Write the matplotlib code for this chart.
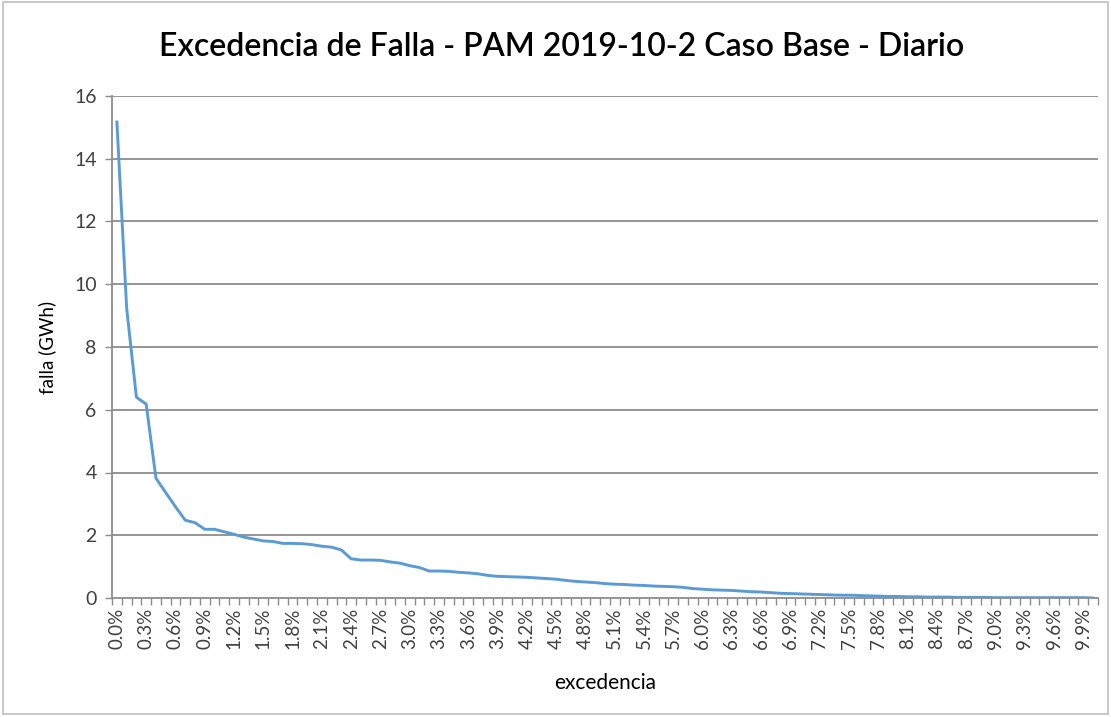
import matplotlib
matplotlib.use("Agg")
import matplotlib.pyplot as plt
from matplotlib.patches import Rectangle

categories = [
    "0.0%", "0.1%", "0.2%", "0.3%", "0.4%", "0.5%", "0.6%", "0.7%", "0.8%", "0.9%",
    "1.0%", "1.1%", "1.2%", "1.3%", "1.4%", "1.5%", "1.6%", "1.7%", "1.8%", "1.9%",
    "2.0%", "2.1%", "2.2%", "2.3%", "2.4%", "2.5%", "2.6%", "2.7%", "2.8%", "2.9%",
    "3.0%", "3.1%", "3.2%", "3.3%", "3.4%", "3.5%", "3.6%", "3.7%", "3.8%", "3.9%",
    "4.0%", "4.1%", "4.2%", "4.3%", "4.4%", "4.5%", "4.6%", "4.7%", "4.8%", "4.9%",
    "5.0%", "5.1%", "5.2%", "5.3%", "5.4%", "5.5%", "5.6%", "5.7%", "5.8%", "5.9%",
    "6.0%", "6.1%", "6.2%", "6.3%", "6.4%", "6.5%", "6.6%", "6.7%", "6.8%", "6.9%",
    "7.0%", "7.1%", "7.2%", "7.3%", "7.4%", "7.5%", "7.6%", "7.7%", "7.8%", "7.9%",
    "8.0%", "8.1%", "8.2%", "8.3%", "8.4%", "8.5%", "8.6%", "8.7%", "8.8%", "8.9%",
    "9.0%", "9.1%", "9.2%", "9.3%", "9.4%", "9.5%", "9.6%", "9.7%", "9.8%", "9.9%",
    "10.0%",
]

falla = [
    15.17, 9.24, 6.40, 6.18, 3.82, 3.36, 2.91, 2.48, 2.40, 2.19,
    2.19, 2.11, 2.03, 1.94, 1.88, 1.82, 1.80, 1.74, 1.74, 1.73,
    1.70, 1.65, 1.62, 1.53, 1.25, 1.21, 1.21, 1.20, 1.15, 1.11,
    1.03, 0.97, 0.86, 0.86, 0.85, 0.82, 0.80, 0.77, 0.72, 0.69,
    0.68, 0.67, 0.66, 0.64, 0.62, 0.60, 0.56, 0.53, 0.51, 0.49,
    0.46, 0.44, 0.43, 0.41, 0.40, 0.38, 0.37, 0.36, 0.34, 0.30,
    0.28, 0.26, 0.25, 0.24, 0.22, 0.20, 0.19, 0.17, 0.15, 0.14,
    0.13, 0.12, 0.11, 0.10, 0.09, 0.09, 0.08, 0.07, 0.06, 0.05,
    0.05, 0.04, 0.04, 0.03, 0.03, 0.03, 0.02, 0.02, 0.02, 0.02,
    0.01, 0.01, 0.01, 0.01, 0.01, 0.01, 0.01, 0.01, 0.01, 0.01,
    0.00,
]

y_ticks = [0, 2, 4, 6, 8, 10, 12, 14, 16]
label_step = 3

title = "Excedencia de Falla - PAM 2019-10-2 Caso Base - Diario"
xlabel = "excedencia"
ylabel = "falla (GWh)"

plt.rcParams["font.family"] = ["Lato", "DejaVu Sans"]

W, H = 1111, 717
fig = plt.figure(figsize=(W / 100, H / 100), dpi=100)
ax = fig.add_axes([112 / W, 1 - 598 / H, (1098 - 112) / W, (598 - 96) / H])

x = list(range(len(categories)))
ax.plot(x, falla, color="#5B9BD5", lw=2.1, solid_joinstyle="round", zorder=3)

ax.set_xlim(-0.5, len(categories) - 0.5)
ax.set_ylim(0, 16)

grid_col = "#8C8C8C"
ax.set_yticks(y_ticks)
ax.set_yticklabels([str(v) for v in y_ticks])
for v in y_ticks[1:]:
    ax.axhline(v, color=grid_col, lw=1.3, zorder=1)

major = x[::label_step]
ax.set_xticks(major)
ax.set_xticklabels([categories[i] for i in major], rotation=90)
ax.set_xticks([i - 0.5 for i in range(len(categories) + 1)], minor=True)
ax.tick_params(axis="x", which="major", length=0, pad=7, labelsize=13.5, labelcolor="#404040")
ax.tick_params(axis="x", which="minor", length=5, width=1, color=grid_col, direction="out")
ax.tick_params(axis="y", which="major", length=5, width=1, color=grid_col, pad=6,
               labelsize=14, labelcolor="#404040")

for s in ["top", "right"]:
    ax.spines[s].set_visible(False)
for s in ["left", "bottom"]:
    ax.spines[s].set_color(grid_col)
    ax.spines[s].set_linewidth(1.3)

fig.text(562 / W, 1 - 47 / H, title, ha="center", va="center", fontsize=23,
         fontweight="semibold", color="#000000")
fig.text(605 / W, 1 - 683 / H, xlabel, ha="center", va="center", fontsize=15, color="#000000")
fig.text(47 / W, 1 - 347 / H, ylabel, ha="center", va="center", rotation=90, fontsize=13.5,
         color="#000000")

fig.patches.append(Rectangle((3 / W, 3 / H), (W - 6) / W, (H - 5) / H,
                             transform=fig.transFigure, fill=False,
                             edgecolor="#BFBFBF", lw=1.2))

fig.savefig("out.png", dpi=100, facecolor="white")
